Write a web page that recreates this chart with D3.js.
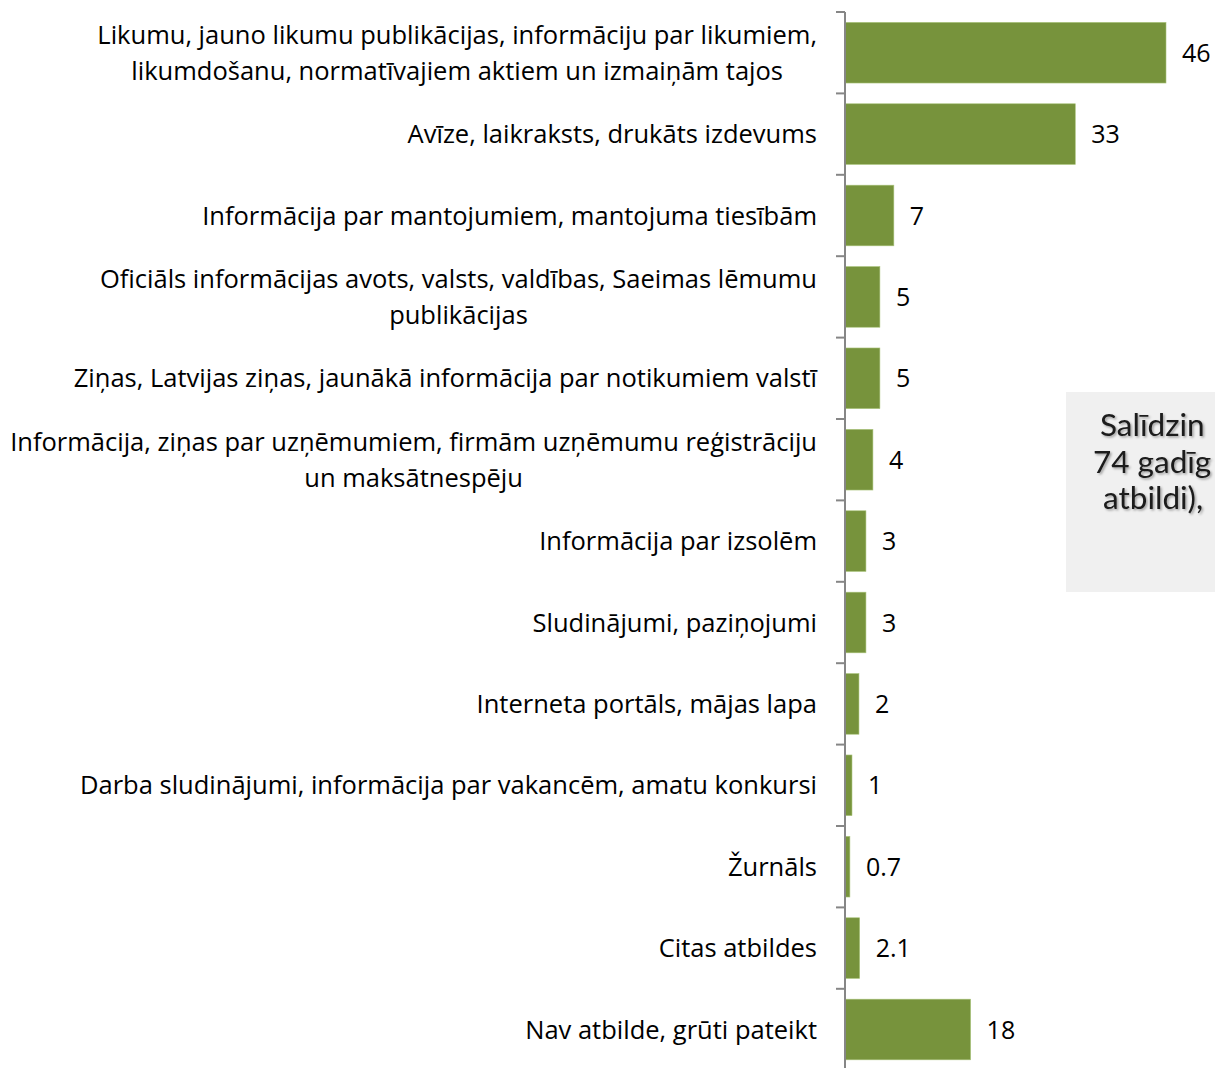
<!DOCTYPE html>
<html>
<head>
<meta charset="utf-8">
<script src="https://cdn.jsdelivr.net/npm/d3@7"></script>
<style>
  html, body { margin: 0; padding: 0; background: #fff; overflow: hidden; }
  svg { display: block; }
</style>
</head>
<body>
<div id="chart"></div>
<script>
    // kategorijas (ar rindu pārnesumiem) un vērtības, %
    const categories = [
        "Likumu, jauno likumu publikācijas, informāciju par likumiem,\nlikumdošanu, normatīvajiem aktiem un izmaiņām tajos",
        "Avīze, laikraksts, drukāts izdevums",
        "Informācija par mantojumiem, mantojuma tiesībām",
        "Oficiāls informācijas avots, valsts, valdības, Saeimas lēmumu\npublikācijas",
        "Ziņas, Latvijas ziņas, jaunākā informācija par notikumiem valstī",
        "Informācija, ziņas par uzņēmumiem, firmām uzņēmumu reģistrāciju\nun maksātnespēju",
        "Informācija par izsolēm",
        "Sludinājumi, paziņojumi",
        "Interneta portāls, mājas lapa",
        "Darba sludinājumi, informācija par vakancēm, amatu konkursi",
        "Žurnāls",
        "Citas atbildes",
        "Nav atbilde, grūti pateikt"
    ];
    const values = [46, 33, 7, 5, 5, 4, 3, 3, 2, 1, 0.7, 2.1, 18];
    const valueLabels = ["46", "33", "7", "5", "5", "4", "3", "3", "2", "1", "0.7", "2.1", "18"];
    // piezīmes lodziņa teksts (attēlā redzamā daļa)
    const noteLines = ["Salīdzin", "74 gadīg", "atbildi),"];

    const width = 1215;
    const height = 1068;
    const axisX = 845;

    const svg = d3.select("#chart")
        .append("svg")
        .attr("width", width)
        .attr("height", height);

    const x = d3.scaleLinear()
        .domain([0, 46])
        .range([axisX, axisX + 321]);

    const y = d3.scaleBand()
        .domain(categories)
        .range([12, 12 + 13 * 81.4])
        .paddingInner(0.255)
        .paddingOuter(0.1275);

    // Stieņi
    svg.append("g")
        .selectAll("rect")
        .data(values)
        .enter()
        .append("rect")
        .attr("x", x(0))
        .attr("y", (d, i) => y(categories[i]))
        .attr("width", d => x(d) - x(0))
        .attr("height", y.bandwidth())
        .attr("fill", "#77933c")
        .attr("stroke", "#a9c37a")
        .attr("stroke-width", 0.6);

    // Vērtību uzraksti
    svg.append("g")
        .selectAll("text")
        .data(values)
        .enter()
        .append("text")
        .attr("x", d => x(d) + 16)
        .attr("y", (d, i) => y(categories[i]) + y.bandwidth() / 2)
        .attr("dy", "0.36em")
        .style("font-family", "'Open Sans', sans-serif")
        .style("font-size", "25px")
        .style("fill", "#000")
        .text((d, i) => valueLabels[i]);

    // Ass ar iedaļām starp kategorijām
    const step = y.step();
    const start = y.range()[0];
    const axis = svg.append("g");
    axis.append("line")
        .attr("x1", axisX).attr("x2", axisX)
        .attr("y1", start).attr("y2", height)
        .attr("stroke", "#868686")
        .attr("stroke-width", 2);
    axis.selectAll(".tick")
        .data(d3.range(categories.length))
        .enter()
        .append("line")
        .attr("x1", axisX - 9).attr("x2", axisX)
        .attr("y1", i => start + i * step)
        .attr("y2", i => start + i * step)
        .attr("stroke", "#868686")
        .attr("stroke-width", 2);

    // Kategoriju nosaukumi
    const lineH = 36;
    const labels = svg.append("g")
        .selectAll("text")
        .data(categories)
        .enter()
        .append("text")
        .attr("text-anchor", "middle")
        .style("font-family", "'Open Sans', sans-serif")
        .style("font-size", "25.5px")
        .style("fill", "#000");

    labels.each(function (d) {
        const lines = d.split("\n");
        const cy = y(d) + y.bandwidth() / 2;
        const t = d3.select(this);
        lines.forEach((line, j) => {
            t.append("tspan")
                .attr("y", cy + (j - (lines.length - 1) / 2) * lineH)
                .attr("dy", "0.36em")
                .text(line);
        });
    });
    // centrējam katru bloku pie labās malas
    labels.each(function () {
        const t = d3.select(this);
        const tspans = t.selectAll("tspan").nodes();
        const maxW = d3.max(tspans, n => n.getComputedTextLength());
        const cx = 817 - maxW / 2;
        t.selectAll("tspan").attr("x", cx);
    });

    // Pelēkais piezīmes lodziņš (daļēji ārpus attēla)
    svg.append("rect")
        .attr("x", 1066)
        .attr("y", 392)
        .attr("width", 300)
        .attr("height", 200)
        .attr("fill", "#f0f0f0");

    const defs = svg.append("defs");
    const f = defs.append("filter").attr("id", "shadow")
        .attr("x", "-10%").attr("y", "-20%").attr("width", "130%").attr("height", "150%");
    f.append("feDropShadow")
        .attr("dx", 1.5).attr("dy", 1.5).attr("stdDeviation", 1.2)
        .attr("flood-color", "#000").attr("flood-opacity", 0.35);

    const noteX = [1100, 1093, 1103];
    svg.append("g")
        .selectAll("text")
        .data(noteLines)
        .enter()
        .append("text")
        .attr("x", (d, i) => noteX[i])
        .attr("y", (d, i) => 436 + i * 36.5)
        .style("font-family", "Lato, sans-serif")
        .style("font-size", "31.5px")
        .style("fill", "#1a1a1a")
        .attr("filter", "url(#shadow)")
        .text(d => d);
</script>
</body>
</html>
